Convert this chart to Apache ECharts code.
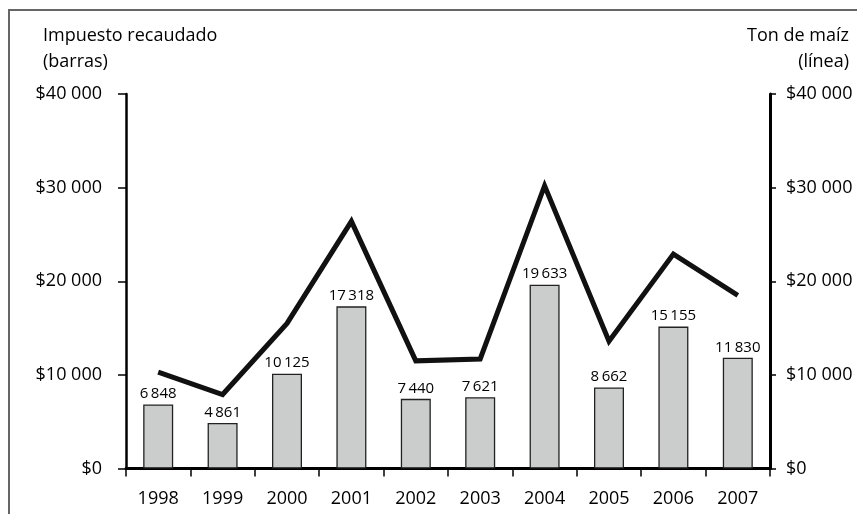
<!DOCTYPE html>
<html>
<head>
<meta charset="utf-8">
<script src="https://cdn.jsdelivr.net/npm/echarts@6/dist/echarts.min.js"></script>
<style>
html,body{margin:0;padding:0;background:#fff;}
#chart{width:857px;height:514px;}
</style>
</head>
<body>
<div id="chart"></div>
<script>
var years = ['1998','1999','2000','2001','2002','2003','2004','2005','2006','2007'];
var impuesto = [6848, 4861, 10125, 17318, 7440, 7621, 19633, 8662, 15155, 11830];
var tonMaiz = [10300, 7900, 15500, 26400, 11500, 11700, 30200, 13600, 22900, 18500];
var leftTitle = 'Impuesto recaudado\n(barras)';
var rightTitle = 'Ton de maíz\n(línea)';

var FONT = 'Open Sans';
function money(v){
  if (v === 0) return '$0';
  var s = String(v);
  return '$' + s.slice(0, s.length-3) + ' ' + s.slice(-3);
}
function thin(v){
  var s = String(v);
  return s.length > 3 ? s.slice(0, s.length-3) + '\u2009' + s.slice(-3) : s;
}

var chart = echarts.init(document.getElementById('chart'), null, {renderer:'canvas'});
chart.setOption({
  animation:false,
  backgroundColor:'#fff',
  textStyle:{fontFamily:FONT},
  grid:{left:126, right:87, top:94, bottom:45.5},
  graphic:[
    {type:'rect', z:-10, shape:{x:9, y:10, width:900, height:600},
     style:{fill:'none', stroke:'#666', lineWidth:2}},
    {type:'text', x:43, y:23, style:{text:leftTitle, font:'18px "Open Sans"', fill:'#000', lineHeight:26, align:'left', textAlign:'left'}},
    {type:'text', x:849, y:23, style:{text:rightTitle, font:'18px "Open Sans"', fill:'#000', lineHeight:26, align:'right', textAlign:'right'}}
  ],
  xAxis:{
    type:'category', data:years, boundaryGap:true,
    axisLine:{lineStyle:{color:'#000', width:3}},
    axisTick:{show:true, length:8, alignWithLabel:false, lineStyle:{color:'#000', width:1.5}},
    axisLabel:{color:'#000', fontSize:18, margin:21, fontFamily:FONT}
  },
  yAxis:[
    {type:'value', min:0, max:40000, interval:10000, position:'left',
     axisLine:{show:true, lineStyle:{color:'#000', width:2.5}},
     axisTick:{show:true, length:8, lineStyle:{color:'#000', width:1.5}},
     splitLine:{show:false},
     axisLabel:{color:'#000', fontSize:18, margin:24, fontFamily:FONT, formatter:money}},
    {type:'value', min:0, max:40000, interval:10000, position:'right',
     axisLine:{show:true, lineStyle:{color:'#000', width:3}},
     axisTick:{show:true, length:6, lineStyle:{color:'#000', width:1.5}},
     splitLine:{show:false},
     axisLabel:{color:'#000', fontSize:18, margin:16, fontFamily:FONT, formatter:money}}
  ],
  series:[
    {type:'bar', data:impuesto, barWidth:30, yAxisIndex:0,
     itemStyle:{color:'#cbcdcc', borderColor:'#222', borderWidth:1.3},
     label:{show:true, position:'top', distance:3, color:'#000', fontSize:15, fontFamily:FONT,
            formatter:function(p){return thin(p.value);}}},
    {type:'line', data:tonMaiz, yAxisIndex:1, symbol:'none', z:5,
     lineStyle:{color:'#111', width:5, join:'miter', cap:'butt'}}
  ]
});
</script>
</body>
</html>
